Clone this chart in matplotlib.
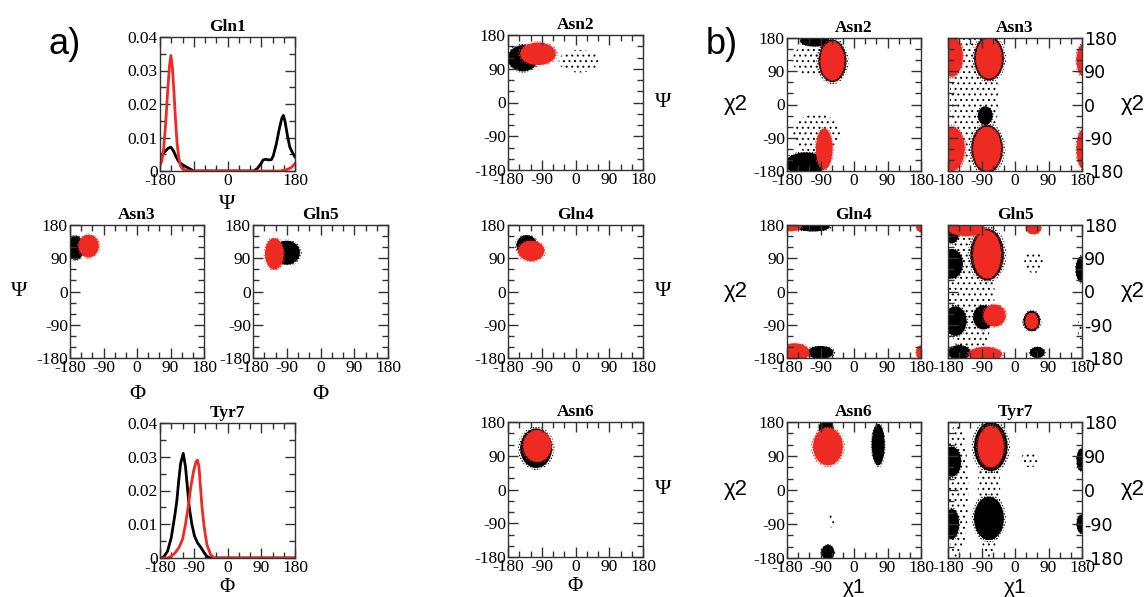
import matplotlib
matplotlib.use("Agg")
import matplotlib.pyplot as plt
from matplotlib.patches import Ellipse
from matplotlib.ticker import MultipleLocator, FuncFormatter

plt.rcParams['hatch.linewidth'] = 0.7
plt.rcParams['axes.unicode_minus'] = False

# ---------------- data ----------------
# 1D distributions (panel a)
gln1_red_x = [-180, -175, -170, -165, -160, -155, -151, -147, -143, -139, -135, -130, -125, -120, -110, -100,
              140, 150, 160, 170, 175, 180]
gln1_red_y = [0.0018, 0.003, 0.007, 0.014, 0.023, 0.031, 0.0345, 0.031, 0.024, 0.016, 0.009, 0.004, 0.0015,
              0.0006, 0.0002, 0.0, 0.0, 0.0002, 0.0005, 0.0010, 0.0016, 0.0022]
gln1_blk_x = [-180, -172, -165, -158, -151, -144, -137, -130, -123, -117, -108, -100, -90, 70, 80, 88, 95,
              102, 110, 117, 122, 130, 138, 145, 149, 153, 160, 166, 173, 180]
gln1_blk_y = [0.0047, 0.0052, 0.006, 0.0068, 0.0071, 0.006, 0.0042, 0.0028, 0.0021, 0.0017, 0.0011, 0.0006,
              0.0, 0.0, 0.0008, 0.002, 0.0033, 0.0035, 0.0033, 0.0034, 0.0045, 0.008, 0.0125, 0.0158, 0.0166,
              0.015, 0.0105, 0.0072, 0.0055, 0.0042]
tyr7_blk_x = [-180, -170, -160, -150, -140, -135, -130, -125, -118, -112, -107, -102, -95, -88, -80, -70, -62,
              -55, -45, 180]
tyr7_blk_y = [0.0, 0.0003, 0.002, 0.006, 0.013, 0.017, 0.023, 0.028, 0.031, 0.027, 0.021, 0.015, 0.010,
              0.0065, 0.0045, 0.003, 0.0015, 0.0005, 0.0, 0.0]
tyr7_red_x = [-180, -160, -150, -140, -130, -120, -112, -105, -98, -90, -84, -80, -76, -72, -68, -62, -55, -45,
              -35, 180]
tyr7_red_y = [0.0, 0.0, 0.0005, 0.0015, 0.003, 0.0055, 0.010, 0.015, 0.021, 0.026, 0.0285, 0.029, 0.027,
              0.021, 0.015, 0.009, 0.004, 0.001, 0.0, 0.0]

# 2D populations: (colour, centre x, centre y, width, height, kind) kind: 'd' dense, 's' sparse
asn3_phipsi = [('k', -165, 118, 45, 65, 'd'), ('r', -130, 123, 55, 62, 'd')]
gln5_phipsi = [('k', -90, 105, 70, 65, 'd'), ('r', -123, 102, 50, 85, 'd')]
asn2_phipsi = [('k', 10, 110, 110, 60, 's'), ('k', -140, 118, 80, 70, 'd'), ('r', -100, 130, 95, 60, 'd')]
gln4_phipsi = [('k', -130, 125, 55, 55, 'd'), ('r', -118, 110, 70, 55, 'd')]
asn6_phipsi = [('k', -105, 110, 85, 105, 'd'), ('r', -102, 116, 75, 85, 'd')]

asn2_chi = [('k', -110, 120, 110, 90, 's'), ('k', -100, -80, 130, 110, 's'),
            ('k', -105, 172, 80, 30, 'd'), ('k', -58, 118, 75, 115, 'd'),
            ('k', -130, -160, 110, 60, 'd'), ('r', -58, 118, 65, 105, 'd'),
            ('r', -80, -120, 45, 110, 'd')]
asn3_chi = [('k', -110, 20, 130, 360, 's'), ('k', -80, -30, 40, 50, 'd'),
            ('k', -70, 125, 80, 120, 'd'), ('k', -75, -120, 85, 130, 'd'),
            ('r', -170, 130, 60, 110, 'd'), ('r', -70, 125, 70, 110, 'd'),
            ('r', -170, -120, 70, 120, 'd'), ('r', -75, -120, 75, 120, 'd'),
            ('r', 185, 120, 40, 90, 'd'), ('r', 185, -120, 40, 110, 'd')]
gln4_chi = [('k', -110, 175, 90, 25, 'd'), ('r', -170, 178, 60, 30, 'd'), ('r', 182, 175, 30, 30, 'd'),
            ('k', -90, -165, 70, 35, 'd'), ('r', -160, -165, 80, 50, 'd'), ('r', 182, -165, 30, 40, 'd')]
gln5_chi = [('k', -120, 0, 130, 360, 's'), ('k', 50, 80, 50, 60, 's'), ('k', 178, -100, 20, 60, 's'),
            ('k', -170, 75, 60, 80, 'd'), ('k', -170, 160, 40, 60, 'd'), ('k', -75, 100, 90, 140, 'd'),
            ('k', 178, 60, 30, 70, 'd'), ('k', -85, -70, 55, 65, 'd'), ('k', 45, -80, 45, 55, 'd'),
            ('k', -160, -80, 60, 80, 'd'), ('k', -150, -165, 60, 40, 'd'), ('k', 60, -165, 40, 30, 'd'),
            ('r', -75, 100, 75, 130, 'd'), ('r', -130, 170, 100, 40, 'd'), ('r', 50, 172, 40, 35, 'd'),
            ('r', -55, -65, 60, 60, 'd'), ('r', 45, -80, 35, 45, 'd'), ('r', -80, -170, 90, 40, 'd')]
asn6_chi = [('k', -60, -80, 15, 40, 's'), ('k', -75, 165, 40, 40, 'd'), ('k', 65, 120, 35, 110, 'd'),
            ('k', -70, -165, 35, 40, 'd'), ('r', -70, 115, 80, 100, 'd')]
tyr7_chi = [('k', -155, 0, 60, 360, 's'), ('k', 40, 80, 50, 40, 's'), ('k', -70, 0, 60, 360, 's'),
            ('k', -170, 75, 50, 80, 'd'), ('k', -170, -90, 40, 80, 'd'), ('k', 178, 80, 25, 60, 'd'),
            ('k', 178, -90, 25, 50, 'd'), ('k', -65, 115, 90, 130, 'd'), ('k', -70, -75, 80, 115, 'd'),
            ('r', -65, 115, 70, 110, 'd')]

angle_ticks = [-180, -90, 0, 90, 180]
hist_ticks = [0, 0.01, 0.02, 0.03, 0.04]

# ---------------- figure ----------------
W, H = 1148, 597
fig = plt.figure(figsize=(W / 100, H / 100), dpi=100)

SERIF = 'Liberation Serif'
SANS = 'Liberation Sans'
RED = '#ee2a22'
TICK_FS = 12.5


def ax_at(l, t, r, b):
    return fig.add_axes([l / W, 1 - b / H, (r - l) / W, (b - t) / H])


def style(ax):
    ax.tick_params(which='both', direction='in', top=True, right=True, labelsize=TICK_FS, pad=1.5,
                   color='#333333')
    ax.tick_params(which='major', length=7, width=1)
    ax.tick_params(which='minor', length=4, width=1)
    for lab in ax.get_xticklabels() + ax.get_yticklabels():
        lab.set_fontfamily(SERIF)
    for s in ax.spines.values():
        s.set_linewidth(1.0)
        s.set_color('#333333')


def angle_axes(ax):
    ax.set_xlim(-180, 180)
    ax.set_ylim(-180, 180)
    ax.set_xticks(angle_ticks)
    ax.set_yticks(angle_ticks)
    ax.xaxis.set_minor_locator(MultipleLocator(30))
    ax.yaxis.set_minor_locator(MultipleLocator(30))
    style(ax)


def draw_pops(ax, pops):
    for c, x, y, w, h, kind in pops:
        col = RED if c == 'r' else 'black'
        if kind == 's':
            ax.add_patch(Ellipse((x, y), w, h, facecolor='none', edgecolor=col, hatch='...', linewidth=0))
        else:
            ax.add_patch(Ellipse((x, y), w * 1.15, h * 1.1, facecolor='none', edgecolor=col,
                                 hatch='......', linewidth=0))
            ax.add_patch(Ellipse((x, y), w, h, facecolor=col, edgecolor='none'))


def title(ax, s):
    ax.set_title(s, fontfamily=SERIF, fontweight='bold', fontsize=12.5, pad=4)


def hist_axes(ax):
    ax.set_xlim(-180, 180)
    ax.set_ylim(0, 0.04)
    ax.set_xticks(angle_ticks)
    ax.set_xticklabels(['-180', '', '0', '', '180'])
    ax.set_yticks(hist_ticks)
    ax.yaxis.set_major_formatter(FuncFormatter(lambda v, p: '0' if abs(v) < 1e-9 else '%.2f' % v))
    ax.xaxis.set_minor_locator(MultipleLocator(30))
    ax.yaxis.set_minor_locator(MultipleLocator(0.005))
    style(ax)


LBL = dict(fontfamily=SERIF, fontsize=16)
CHI = dict(fontfamily=SANS, fontsize=16)
LBL_B = dict(fontfamily=SERIF, fontsize=15)
CHI_B = dict(fontfamily=SANS, fontsize=15)
XL_Y = -0.15

# ---- panel a ----
ax = ax_at(160, 37, 295, 171)
ax.plot(gln1_blk_x, gln1_blk_y, color='black', lw=2)
ax.plot(gln1_red_x, gln1_red_y, color=RED, lw=2)
hist_axes(ax)
title(ax, 'Gln1')
ax.set_xlabel('Ψ', **LBL)
ax.xaxis.set_label_coords(0.5, -0.18)

ax = ax_at(160, 423, 295, 558)
ax.plot(tyr7_blk_x, tyr7_blk_y, color='black', lw=2)
ax.plot(tyr7_red_x, tyr7_red_y, color=RED, lw=2)
hist_axes(ax)
ax.set_xticklabels(['-180', '-90', '0', '90', '180'])
title(ax, 'Tyr7')
ax.set_xlabel('Φ', **LBL_B)
ax.xaxis.set_label_coords(0.5, XL_Y)

for (l, t, r, b), pops, name, ylab in [((70, 225, 204, 358), asn3_phipsi, 'Asn3', True),
                                       ((253, 225, 388, 358), gln5_phipsi, 'Gln5', False)]:
    ax = ax_at(l, t, r, b)
    draw_pops(ax, pops)
    angle_axes(ax)
    title(ax, name)
    ax.set_xlabel('Φ', **LBL)
    ax.xaxis.set_label_coords(0.5, -0.2)
    if ylab:
        ax.set_ylabel('Ψ', rotation=0, va='center', ha='center', **LBL)
        ax.yaxis.set_label_coords(-0.38, 0.5)

mid = [((508, 35, 643, 170), asn2_phipsi, 'Asn2'),
       ((508, 225, 643, 358), gln4_phipsi, 'Gln4'),
       ((508, 422, 643, 557), asn6_phipsi, 'Asn6')]
for i, ((l, t, r, b), pops, name) in enumerate(mid):
    ax = ax_at(l, t, r, b)
    draw_pops(ax, pops)
    angle_axes(ax)
    title(ax, name)
    ax.yaxis.set_label_position('right')
    ax.set_ylabel('Ψ', rotation=0, va='center', ha='center', **LBL)
    ax.yaxis.set_label_coords(1.15, 0.5)
    if i == 2:
        ax.set_xlabel('Φ', **LBL_B)
        ax.xaxis.set_label_coords(0.5, XL_Y)

# ---- panel b ----
bpan = [((787, 38, 921, 171), asn2_chi, 'Asn2', 'L', False),
        ((948, 38, 1082, 171), asn3_chi, 'Asn3', 'R', False),
        ((787, 225, 921, 358), gln4_chi, 'Gln4', 'L', False),
        ((948, 225, 1082, 358), gln5_chi, 'Gln5', 'R', False),
        ((787, 422, 921, 558), asn6_chi, 'Asn6', 'L', True),
        ((948, 422, 1082, 558), tyr7_chi, 'Tyr7', 'R', True)]
for (l, t, r, b), pops, name, side, xl in bpan:
    ax = ax_at(l, t, r, b)
    draw_pops(ax, pops)
    angle_axes(ax)
    title(ax, name)
    if side == 'R':
        ax.tick_params(labelleft=False, labelright=True)
        ax.yaxis.set_label_position('right')
        ax.set_ylabel('χ2', rotation=0, va='center', ha='center', **CHI)
        ax.yaxis.set_label_coords(1.38, 0.5)
    else:
        ax.set_ylabel('χ2', rotation=0, va='center', ha='center', **CHI)
        ax.yaxis.set_label_coords(-0.38, 0.5)
    if xl:
        ax.set_xlabel('χ1', **CHI_B)
        ax.xaxis.set_label_coords(0.5, XL_Y)

fig.text(65 / W, 1 - 45 / H, 'a)', fontfamily=SANS, fontsize=26, ha='center', va='center')
fig.text(722 / W, 1 - 45 / H, 'b)', fontfamily=SANS, fontsize=26, ha='center', va='center')

fig.savefig('out.png', dpi=100)
